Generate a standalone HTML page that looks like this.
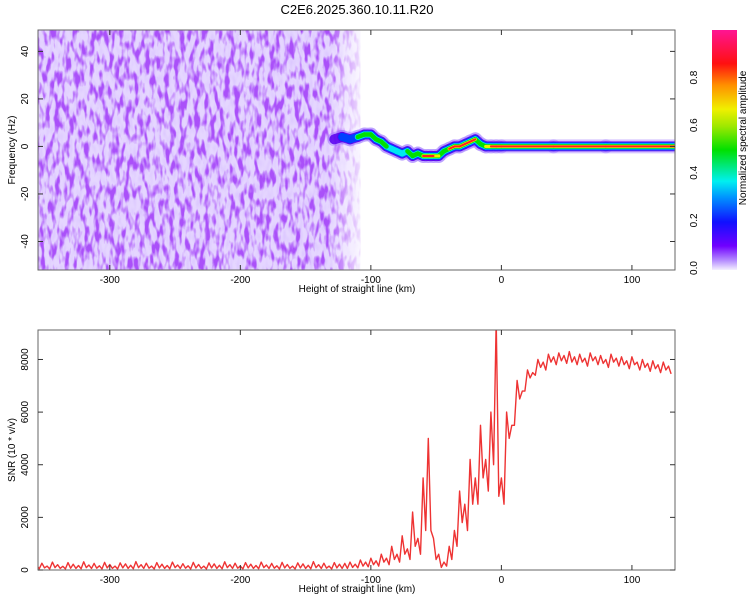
<!DOCTYPE html>
<html><head><meta charset="utf-8">
<style>
body{margin:0;background:#fff;}
svg text{font-family:"Liberation Sans",sans-serif;fill:#000;}
</style></head>
<body>
<svg id="c" width="750" height="600" viewBox="0 0 750 600">
<defs>
<filter id="noise" x="0" y="0" width="100%" height="100%">
<feTurbulence type="fractalNoise" baseFrequency="0.2 0.07" numOctaves="2" seed="7"/>
<feColorMatrix type="matrix" values="0 0 0 0 0.4  0 0 0 0 0.08  0 0 0 0 0.95  4.5 0 0 0 -2.05"/>
</filter>
<filter id="noise2" x="0" y="0" width="100%" height="100%">
<feTurbulence type="fractalNoise" baseFrequency="0.3 0.12" numOctaves="1" seed="3"/>
<feColorMatrix type="matrix" values="0 0 0 0 0.72  0 0 0 0 0.58  0 0 0 0 1  2.5 0 0 0 -1.0"/>
</filter>
<linearGradient id="fade" x1="0" x2="1" y1="0" y2="0">
<stop offset="0" stop-color="#fff" stop-opacity="1"/>
<stop offset="0.88" stop-color="#fff" stop-opacity="1"/>
<stop offset="1" stop-color="#fff" stop-opacity="0"/>
</linearGradient>
<mask id="fm"><rect x="38" y="30" width="330" height="240" fill="url(#fade)"/></mask>
<linearGradient id="cbar" x1="0" x2="0" y1="1" y2="0">
<stop offset="0" stop-color="#f4f0ff"/>
<stop offset="0.04" stop-color="#b58cff"/>
<stop offset="0.1" stop-color="#7000ff"/>
<stop offset="0.2" stop-color="#1010ff"/>
<stop offset="0.3" stop-color="#0090ff"/>
<stop offset="0.37" stop-color="#00f0f0"/>
<stop offset="0.5" stop-color="#00e000"/>
<stop offset="0.6" stop-color="#a0e800"/>
<stop offset="0.67" stop-color="#f0f000"/>
<stop offset="0.77" stop-color="#ff9000"/>
<stop offset="0.86" stop-color="#ff1010"/>
<stop offset="1" stop-color="#ff1493"/>
</linearGradient>
<clipPath id="clipTop"><rect x="38" y="30" width="637" height="240"/></clipPath>
<clipPath id="clipBot"><rect x="38" y="330" width="637" height="240"/></clipPath>
</defs>
<text x="357" y="14" font-size="13" text-anchor="middle">C2E6.2025.360.10.11.R20</text>
<g id="topPanel"></g>
<g id="botPanel"></g>
<g id="cb"></g>
</svg>
<script>
// ---- data ----
const xTicks = [-300, -200, -100, 0, 100];
const fTicks = [40, 20, 0, -20, -40];
const snrTicks = [0, 2000, 4000, 6000, 8000];
const cbTicks = ["0.0", "0.2", "0.4", "0.6", "0.8"];
// spectral track: height (km), frequency (Hz), amplitude (0-1)
const trackH = [-128,-122,-116,-110,-105,-100,-96,-92,-88,-84,-80,-76,-72,-68,-64,-60,-56,-52,-48,-44,-40,-36,-32,-28,-24,-20,-16,-12,-8,-4,0,40,80,133];
const trackF = [3,4,3,4,5,5,3,2,0,-1,-2,-3,-2,-4,-3,-4,-4,-4,-4,-2,-1,0,0,1,2,3,1,0,0,0,0,0,0,0];
const trackA = [0.2,0.3,0.35,0.45,0.55,0.7,0.5,0.45,0.45,0.4,0.5,0.4,0.45,0.5,0.6,0.9,0.92,0.9,0.7,0.55,0.75,0.8,0.85,0.75,0.85,0.9,0.6,0.7,0.9,0.95,1,1,1,1];
// SNR trace, start -356 km, step 4 km: bin high and bin low values
const snrStart = -356, snrStep = 4;
const snrVals = [180,260,150,300,200,140,280,220,170,310,190,250,160,290,210,150,270,230,180,320,200,260,150,280,220,170,300,190,240,160,290,210,150,270,230,180,310,200,260,150,280,220,170,300,190,250,160,290,210,150,270,230,180,320,200,260,150,280,220,
250,300,220,380,300,450,350,600,450,900,600,1300,800,2200,1200,3500,5000,1200,600,300,900,1500,3000,2500,4200,3500,5500,4200,6000,9500,3500,6000,5500,7200,6800,7600,7500,8000,7900,8200,8100,8250,8150,8300,8100,8200,8050,8250,8100,8150,8000,8200,8050,8100,7950,8100,7900,8000,7850,7950,7800,7900,7750];
const snrLow = [50,80,40,90,60,40,70,60,50,90,60,70,40,80,60,40,80,60,50,90,60,70,40,80,60,50,90,60,70,40,80,60,40,80,60,50,90,60,70,40,80,60,50,90,60,70,40,80,60,40,80,60,50,90,60,70,40,80,60,
60,100,80,150,120,200,150,300,200,400,300,600,400,900,600,1500,1500,400,100,150,400,900,1800,1500,2500,2500,3500,3000,4000,2800,2500,5000,5500,6500,6800,7300,7400,7700,7600,7900,7800,7950,7850,7900,7800,7900,7750,7950,7800,7850,7700,7900,7750,7800,7650,7800,7600,7700,7550,7650,7500,7600,7450];

const NS = "http://www.w3.org/2000/svg";
function mk(tag, attrs, parent){const e=document.createElementNS(NS,tag);for(const k in attrs)e.setAttribute(k,attrs[k]);parent.appendChild(e);return e;}
const X0=38,X1=675, H0=-355, H1=133;
const xs = h => X0 + (h-H0)/(H1-H0)*(X1-X0);
const TT=30, TB=270, F0=-52, F1=49;
const fy = f => TB - (f-F0)/(F1-F0)*(TB-TT);
const BT=330, BB=570, S0=0, S1=9120;
const sy = s => BB - (s-S0)/(S1-S0)*(BB-BT);

function drawFrame(g, yTop, yBottom, yTicks, yfun, ylab, yTitle){
  const fr = mk('rect',{x:X0,y:yTop,width:X1-X0,height:yBottom-yTop,fill:'none',stroke:'#666','stroke-width':1},g);
  
  
  xTicks.forEach(t=>{
    const x=xs(t);
    mk('line',{x1:x,x2:x,y1:yBottom,y2:yBottom-5,stroke:'#333'},g);
    mk('line',{x1:x,x2:x,y1:yTop,y2:yTop+5,stroke:'#333'},g);
    const tx=mk('text',{x:x,y:yBottom+13,'font-size':10,'text-anchor':'middle'},g);
    tx.textContent=t;
    
    
  });
  yTicks.forEach(t=>{
    const y=yfun(t);
    mk('line',{x1:X0,x2:X0+5,y1:y,y2:y,stroke:'#333'},g);
    mk('line',{x1:X1,x2:X1-5,y1:y,y2:y,stroke:'#333'},g);
    const tx=mk('text',{x:0,y:0,'font-size':10,'text-anchor':'middle',transform:`translate(${X0-10},${y}) rotate(-90)`},g);
    tx.textContent=ylab(t);
    
    
  });
  const xt=mk('text',{x:357,y:yBottom+22,'font-size':10,'text-anchor':'middle'},g);
  xt.textContent='Height of straight line (km)';
  
  
  const yt=mk('text',{x:0,y:0,'font-size':10,'text-anchor':'middle',transform:`translate(15,${(yTop+yBottom)/2}) rotate(-90)`},g);
  yt.textContent=yTitle;
  
  
}

// ---- top panel ----
const topG=document.getElementById('topPanel');
const tg=mk('g',{'clip-path':'url(#clipTop)'},topG);
const nz=mk('g',{mask:'url(#fm)'},tg);
const bgr=mk('rect',{x:X0,y:TT,width:xs(-108)-X0,height:TB-TT,fill:'#e2d2ff',opacity:0.9},nz);


const nr2=mk('rect',{x:X0,y:TT,width:xs(-108)-X0,height:TB-TT,filter:'url(#noise2)'},nz);


const nr=mk('rect',{x:X0,y:TT,width:xs(-108)-X0,height:TB-TT,filter:'url(#noise)'},nz);


const layers=[[0,'#9a70ff',14,0.4],[0.15,'#5a00f0',10,0.85],[0.28,'#0040ff',8,1],[0.36,'#00e8f0',6,1],[0.45,'#00e000',4.5,1],[0.62,'#f0f000',3.2,1],[0.75,'#ff2020',2,1]];
layers.forEach(([lv,col,w,op])=>{
  for(let i=0;i<trackH.length-1;i++){
    const a=Math.min(trackA[i],trackA[i+1]);
    if(a<lv) continue;
    const ln=mk('line',{x1:xs(trackH[i]),y1:fy(trackF[i]),x2:xs(trackH[i+1]),y2:fy(trackF[i+1]),stroke:col,'stroke-width':w,'stroke-linecap':'round',opacity:op},tg);
    
    
  }
});
drawFrame(topG,TT,TB,fTicks,fy,t=>t,'Frequency (Hz)');

// ---- bottom panel ----
const botG=document.getElementById('botPanel');
const bgp=mk('g',{'clip-path':'url(#clipBot)'},botG);
const ptsArr=[];
snrVals.forEach((v,i)=>{
  const h=snrStart+i*snrStep;
  ptsArr.push(xs(h).toFixed(1)+','+sy(v).toFixed(1));
  ptsArr.push(xs(h+snrStep/2).toFixed(1)+','+sy(snrLow[i]).toFixed(1));
});
const pl=mk('polyline',{points:ptsArr.join(' '),fill:'none',stroke:'#ee3333','stroke-width':1.4,'stroke-linejoin':'round'},bgp);


drawFrame(botG,BT,BB,snrTicks,sy,t=>t,'SNR (10 * v/v)');

// ---- colorbar ----
const cb=document.getElementById('cb');
const cr=mk('rect',{x:712,y:30,width:25,height:240,fill:'url(#cbar)'},cb);


cbTicks.forEach((t,i)=>{
  const y=268-i*0.2*238;
  const tx=mk('text',{x:0,y:0,'font-size':10,'text-anchor':'middle',transform:`translate(697,${y}) rotate(-90)`},cb);
  tx.textContent=t;
  
  
});
const ct=mk('text',{x:0,y:0,'font-size':10,'text-anchor':'middle',transform:'translate(746,138) rotate(-90)'},cb);
ct.textContent='Normalized spectral amplitude';


</script>
</body></html>
